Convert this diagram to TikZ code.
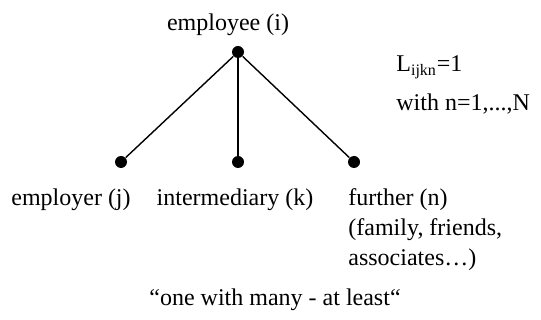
\documentclass[tikz,border=0pt]{standalone}
\usepackage{fontspec}
\setmainfont{Liberation Serif}
\usepackage{tikz}
\usetikzlibrary{positioning}
\tikzstyle{dot}=[circle,fill=black,inner sep=0pt,minimum size=6pt]
\tikzstyle{lbl}=[inner sep=0pt,font=\fontsize{12}{14.5}\selectfont]
\tikzstyle{tie}=[line width=.7pt]

\begin{document}
\begin{tikzpicture}[x=0.5pt,y=-0.5pt]
	\useasboundingbox (0,0) rectangle (541,320);
	\node[dot] (i) at (238,52) {};
	\node[dot] (j) at (121,162) {};
	\node[dot] (k) at (238,162) {};
	\node[dot] (n) at (354,162) {};
	\draw[tie] (i) -- (j);
	\draw[tie] (i) -- (k);
	\draw[tie] (i) -- (n);
	\node[lbl,anchor=base] (ti) at (228,31) {employee (i)};
	\node[lbl,anchor=base] (tj) at (71,206) {employer (j)};
	\node[lbl,anchor=base] (tk) at (235,206) {intermediary (k)};
	\node[lbl,anchor=base west] (tn) at (348,206) {further (n)};
	\node[lbl,anchor=base west] (tn2) at (348,236) {(family, friends,};
	\node[lbl,anchor=base west] (tn3) at (348,266) {associates…)};
	\node[lbl,anchor=base west] (L) at (396,72) {L\textsubscript{ijkn}=1};
	\node[lbl,anchor=base west] (w) at (396,111) {with n=1,...,N};
	\node[lbl,anchor=base] (q) at (275,306) {“one with many - at least“};
\end{tikzpicture}
\end{document}
